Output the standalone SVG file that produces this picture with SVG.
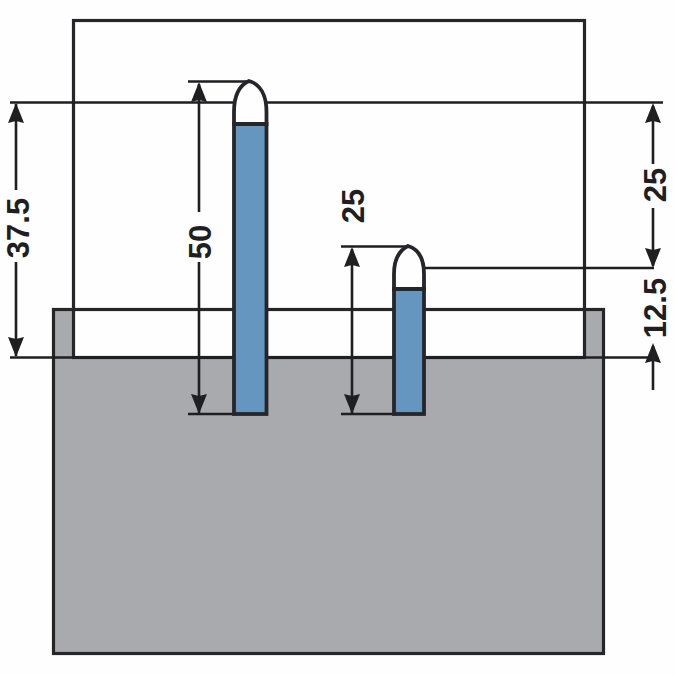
<svg xmlns="http://www.w3.org/2000/svg" width="675" height="675" viewBox="0 0 675 675">
<style>
.o{stroke:#26262a;stroke-width:3.2;fill:none}
.g{fill:#a9aaad}
.d{stroke:#1f1f22;stroke-width:2.6;fill:none}
.p{stroke:#26262a;stroke-width:3.8}
.h{fill:#1f1f22}
text{font-family:"Liberation Sans",Arial,sans-serif;font-weight:700;font-size:31px;fill:#1f1f22;text-anchor:middle}
</style>
<defs><path id="a" d="M0 0L8 20L0 18L-8 20Z"/></defs>
<rect width="675" height="675" fill="#fefefe"/>
<g id="base">
<rect x="53.500" y="309.500" width="550" height="344" class="g"/>
<rect x="73.500" y="309.500" width="511" height="48" fill="#fefefe"/>
<rect x="53.500" y="309.500" width="550" height="344" class="o"/>
</g>
<g id="box"><rect x="73.500" y="20.500" width="511" height="337" class="o"/></g>
<g id="connectors">
<path class="d" d="M10 102.500H663M10 357.500H648M188 81.500H248M341 246.500H408M188 414H234M341 414H394M424 268H654"/>
<path class="d" d="M16 104V190M16 262V356M199 84V212M199 262V413M352 249V413M653 106V164M653 208V266M653 346V390"/>
<g class="h">
<use href="#a" transform="translate(16,103)"/>
<use href="#a" transform="translate(16,357) rotate(180)"/>
<use href="#a" transform="translate(199,82)"/>
<use href="#a" transform="translate(199,414) rotate(180)"/>
<use href="#a" transform="translate(352,247)"/>
<use href="#a" transform="translate(352,414) rotate(180)"/>
<use href="#a" transform="translate(653,103)"/>
<use href="#a" transform="translate(653,268) rotate(180)"/>
<use href="#a" transform="translate(653,343)"/>
</g>
</g>
<g id="pin-long">
<rect x="234" y="124" width="32.500" height="290" fill="#6596bf" class="p"/>
<path d="M234 124V112C234 95 240 85 249 81C260 84 266.500 95 266.500 112V124Z" fill="#fefefe" class="p"/>
</g>
<g id="pin-short">
<rect x="394" y="289" width="30" height="125" fill="#6596bf" class="p"/>
<path d="M394 289V274C394 258 400 250 408 246C418 249 424 258 424 274V289Z" fill="#fefefe" class="p"/>
</g>
<g id="labels">
<text transform="translate(29,228) rotate(-90)">37.5</text>
<text transform="translate(211,242) rotate(-90)">50</text>
<text transform="translate(364,206) rotate(-90)">25</text>
<text transform="translate(665.500,185) rotate(-90)">25</text>
<text transform="translate(665.500,308) rotate(-90)">12.5</text>
</g>
</svg>
